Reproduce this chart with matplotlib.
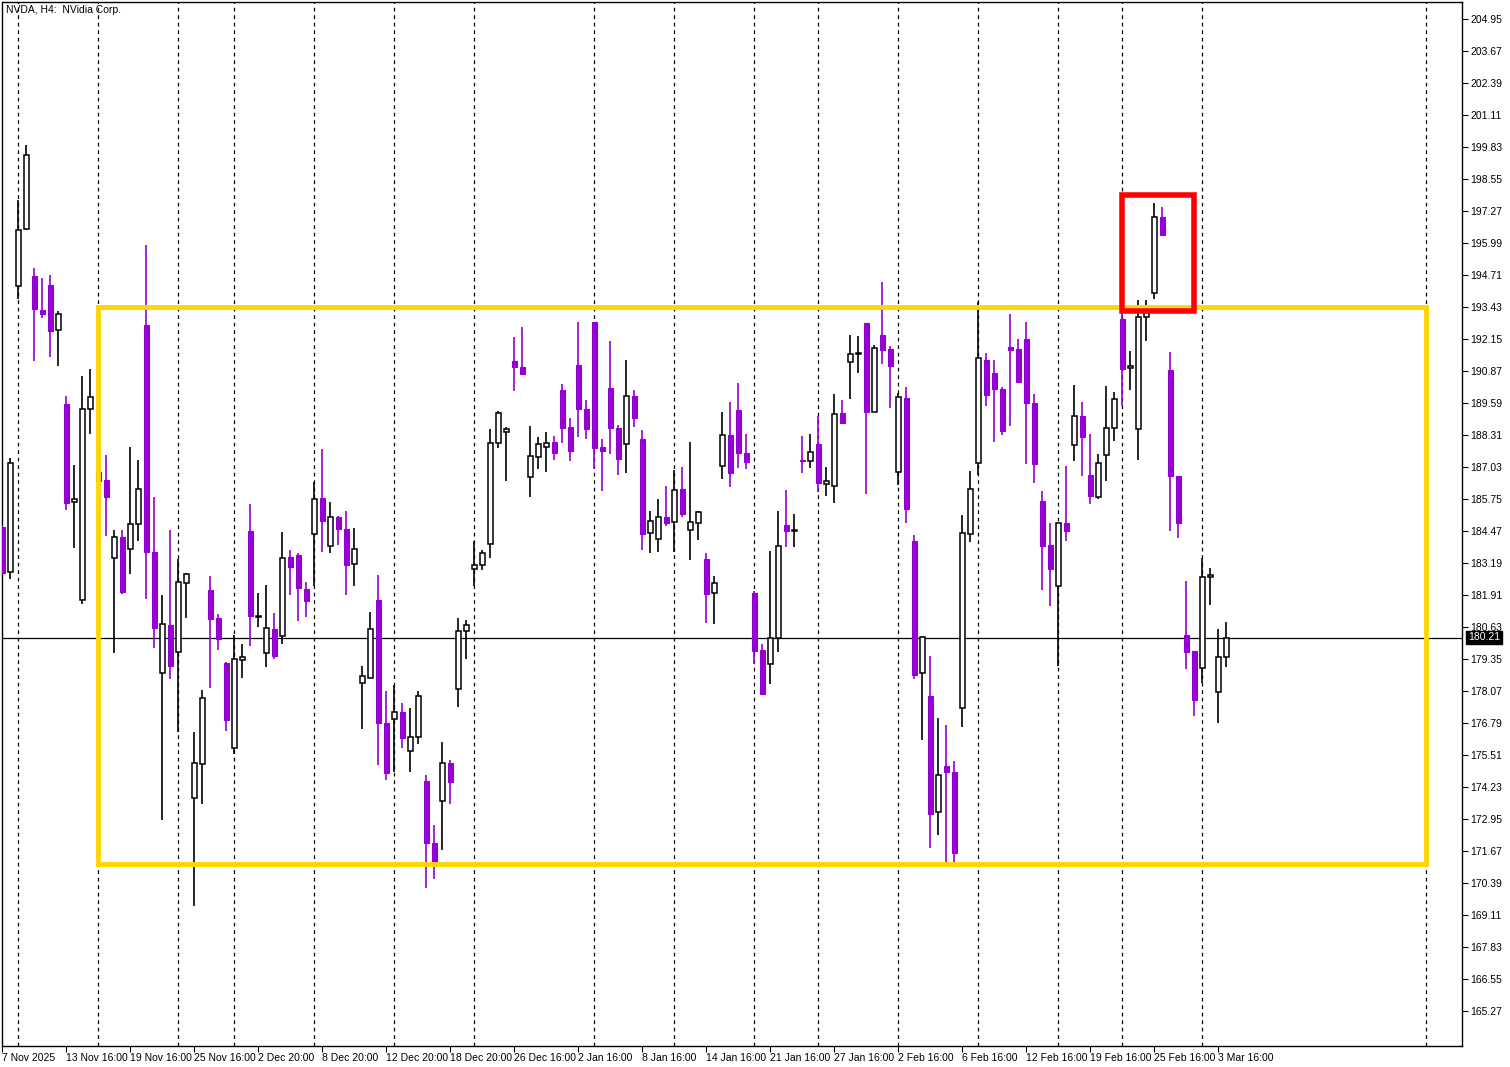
import matplotlib
matplotlib.use("Agg")
import matplotlib.pyplot as plt
from matplotlib.patches import Rectangle

plt.rcParams['font.family'] = ['Liberation Sans', 'DejaVu Sans']

opens = [184.63,182.83,194.27,196.55,194.67,193.31,194.31,192.51,189.55,185.63,181.71,189.35,186.83,186.51,183.39,184.23,183.75,184.75,192.71,183.63,
         178.79,180.71,179.63,182.39,173.79,175.15,182.11,180.99,179.19,175.79,179.31,184.47,181.03,179.59,180.55,180.27,183.43,183.51,182.15,184.35,
         185.79,183.87,185.03,184.55,183.15,178.39,178.59,181.71,176.79,176.95,177.23,175.67,176.23,174.47,171.99,173.67,175.19,178.15,180.47,182.95,
         183.11,183.95,187.99,188.43,191.27,191.03,186.63,187.43,187.83,188.03,190.11,188.63,191.11,189.35,192.83,187.83,190.19,188.59,187.95,189.87,
         188.15,184.39,184.15,185.03,184.83,186.15,184.51,184.79,183.35,181.99,187.07,188.31,189.31,187.59,181.99,179.71,179.15,180.19,184.71,184.47,
         187.31,187.27,187.95,186.35,186.27,189.19,191.23,191.55,192.79,189.23,192.31,191.75,186.83,189.79,184.07,178.79,177.87,173.23,175.07,174.83,
         177.39,184.35,187.19,191.31,190.79,190.15,191.83,191.75,192.15,189.59,185.67,183.91,182.27,184.79,187.91,189.07,186.71,185.83,187.51,188.59,
         192.95,190.99,188.55,193.03,193.99,197.03,190.91,186.67,180.31,179.67,178.99,182.63,178.03,179.43]
highs = [184.70,187.39,197.71,199.91,194.99,194.59,194.71,193.27,189.87,187.11,190.67,190.95,188.91,187.51,184.51,184.51,187.83,187.31,195.91,185.83,
         181.91,184.51,183.35,182.79,176.43,178.11,182.67,181.15,179.23,180.31,179.95,185.55,181.99,182.31,181.19,184.43,183.71,183.59,182.43,186.43,
         187.75,185.63,185.07,185.27,184.59,179.07,181.23,182.71,178.07,178.31,177.59,177.39,178.07,174.71,172.71,176.03,175.31,180.99,180.91,184.07,
         183.71,188.55,189.27,188.63,192.23,192.63,188.67,188.23,188.43,188.27,190.35,188.99,192.83,189.71,192.83,188.15,192.07,188.71,191.31,190.11,
         188.51,185.27,185.75,186.27,186.91,187.03,188.03,185.27,183.59,182.67,189.23,189.63,190.39,188.35,182.07,179.95,183.67,185.27,186.11,185.15,
         188.27,188.35,189.07,187.03,189.95,189.71,192.31,192.27,192.79,191.91,194.43,191.87,189.99,190.23,184.31,180.27,179.47,176.99,176.71,175.27,
         185.11,186.87,193.63,191.59,191.31,190.23,193.15,192.15,192.83,189.95,186.07,184.79,184.79,187.07,190.31,189.63,188.35,187.55,190.27,190.03,
         193.39,191.67,193.71,193.71,197.59,197.43,191.63,186.67,182.47,179.67,183.39,182.99,180.55,180.83]
lows = [182.79,182.55,193.75,196.51,191.27,192.99,191.43,191.07,185.31,183.79,181.55,188.35,185.63,184.27,179.59,181.95,182.75,184.07,181.75,179.79,
        172.91,178.55,176.43,180.99,169.47,173.55,178.19,179.71,176.47,175.55,178.59,179.87,180.63,179.03,179.35,179.95,181.91,180.87,181.03,182.27,
        183.63,183.59,183.91,181.91,182.27,176.55,178.59,175.11,174.51,174.83,175.79,174.83,175.95,170.19,170.55,171.71,173.55,177.43,179.35,182.27,
        182.91,183.39,187.79,186.47,190.07,190.75,185.83,186.95,186.83,187.31,187.99,187.27,188.23,188.15,186.95,186.07,187.55,186.71,186.79,188.63,
        183.71,183.59,183.63,184.67,183.63,185.03,183.31,184.11,180.79,180.75,186.55,186.23,186.99,186.95,179.15,177.95,178.35,179.63,183.83,183.83,
        186.79,186.99,186.03,185.87,185.59,188.75,189.75,190.79,185.95,189.23,191.15,189.39,186.31,184.79,178.55,176.11,171.79,172.31,171.19,171.03,
        176.63,184.03,186.71,189.47,188.03,188.31,188.67,190.43,187.15,186.39,182.11,181.47,179.07,184.07,187.27,186.67,185.55,185.75,186.47,188.07,
        189.47,190.11,187.31,192.07,193.75,196.31,184.47,184.19,178.95,177.07,178.39,181.51,176.79,179.03]
closes = [182.79,187.19,196.51,199.51,193.35,193.15,192.47,193.15,185.59,185.75,189.35,189.83,186.47,185.83,184.23,182.03,184.75,186.15,183.63,180.59,
          180.75,179.07,182.43,182.75,175.19,177.79,180.95,180.15,176.91,179.35,179.43,181.07,181.03,180.59,179.47,183.39,183.03,182.19,181.67,185.75,
          184.87,185.03,184.55,183.11,183.75,178.67,180.55,176.79,174.79,177.23,176.19,176.23,177.87,171.99,171.07,175.19,174.43,180.47,180.71,183.11,
          183.59,187.99,189.19,188.55,191.03,190.75,187.47,187.95,187.99,187.59,188.59,187.67,189.35,188.55,187.79,187.67,188.59,187.35,189.87,188.99,
          184.35,184.87,185.03,184.79,186.11,185.15,184.83,185.23,181.95,182.39,188.31,186.79,187.59,187.23,179.67,177.95,180.19,183.87,184.47,184.50,
          187.27,187.63,186.39,186.47,189.15,188.79,191.55,191.56,189.23,191.79,191.71,191.07,189.83,185.35,178.71,180.23,173.15,174.71,174.83,171.59,
          184.39,186.15,191.39,189.91,190.15,188.47,191.71,190.43,189.59,187.15,183.87,182.95,184.79,184.47,189.07,188.23,185.87,187.19,188.59,189.75,
          190.95,191.07,193.03,193.39,197.03,196.31,186.67,184.79,179.63,177.71,182.63,182.71,179.43,180.21]

price_ticks = [204.95,203.67,202.39,201.11,199.83,198.55,197.27,195.99,194.71,193.43,192.15,190.87,189.59,188.31,187.03,185.75,184.47,183.19,
               181.91,180.63,179.35,178.07,176.79,175.51,174.23,172.95,171.67,170.39,169.11,167.83,166.55,165.27]
date_labels = ["7 Nov 2025","13 Nov 16:00","19 Nov 16:00","25 Nov 16:00","2 Dec 20:00","8 Dec 20:00","12 Dec 20:00","18 Dec 20:00",
               "26 Dec 16:00","2 Jan 16:00","8 Jan 16:00","14 Jan 16:00","21 Jan 16:00","27 Jan 16:00","2 Feb 16:00","6 Feb 16:00",
               "12 Feb 16:00","19 Feb 16:00","25 Feb 16:00","3 Mar 16:00"]
grid_idx = [2,12,22,29,39,49,59,74,84,94,102,112,122,132,140,150,178]
last_price = 180.21
yellow_box = (12, 178, 171.15, 193.43)
red_box = (140, 149, 193.27, 197.91)

W, H = 1510, 1067
fig = plt.figure(figsize=(W/100, H/100), dpi=100)
L, R, T, B = 2, 1462, 2, 1046
ax = fig.add_axes([L/W, 1-B/H, (R-L)/W, (B-T)/H])
ax.set_xlim(-0.05, (R-L)/8 - 0.05)
ax.set_ylim(205.71-0.04*B, 205.71-0.04*T)

purple = "#9400D3"
for gi in grid_idx:
    ax.axvline(gi, color="black", lw=0.9, ls=(0, (3, 3)), zorder=1)

ax.axhline(last_price, color="black", lw=0.9, zorder=2)

for i, (o, h, l, c) in enumerate(zip(opens, highs, lows, closes)):
    if c < o:
        ax.plot([i, i], [l, h], color=purple, lw=1.2, zorder=3, solid_capstyle="butt")
        ax.add_patch(Rectangle((i-0.31, c), 0.62, o-c, facecolor=purple, edgecolor=purple, lw=0.8, zorder=4))
    else:
        ax.plot([i, i], [l, h], color="black", lw=1.2, zorder=3, solid_capstyle="butt")
        hgt = max(c-o, 0.02)
        ax.add_patch(Rectangle((i-0.31, o), 0.62, hgt, facecolor="white", edgecolor="black", lw=1.1, zorder=4))

x0, x1, y0, y1 = yellow_box
ax.add_patch(Rectangle((x0, y0), x1-x0, y1-y0, fill=False, edgecolor="#FFD700", lw=3.5, zorder=5))
x0, x1, y0, y1 = red_box
ax.add_patch(Rectangle((x0, y0), x1-x0, y1-y0, fill=False, edgecolor="#FF0000", lw=4, zorder=6))

ax.yaxis.tick_right()
ax.set_yticks(price_ticks)
ax.set_yticklabels([f"{p:.2f}" for p in price_ticks])
ax.tick_params(axis="y", length=4, width=0.8, labelsize=7.5, pad=2)
ax.set_xticks([8*k for k in range(len(date_labels))])
ax.set_xticklabels(date_labels, ha="left")
ax.tick_params(axis="x", length=4, width=0.8, labelsize=7.5, pad=1)
for s in ax.spines.values():
    s.set_linewidth(1)

ax.text(1.004, last_price, f"{last_price:.2f}", transform=ax.get_yaxis_transform(), fontsize=7.5, color="white",
        va="center", ha="left", bbox=dict(boxstyle="square,pad=0.15", fc="black", ec="black"), zorder=10, clip_on=False)
ax.text(0.003, 0.997, "NVDA, H4:  NVidia Corp.", transform=ax.transAxes, fontsize=7.5, va="top", ha="left")

fig.savefig("out.png", dpi=100)
